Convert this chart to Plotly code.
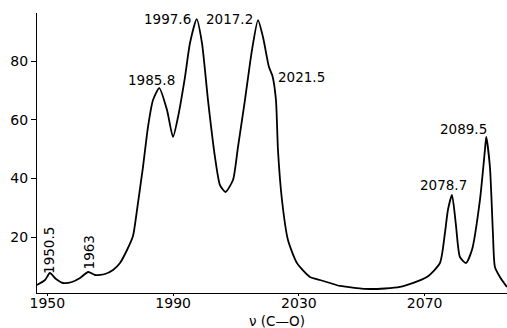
import plotly.graph_objects as go

# Wavenumber (cm^-1) and intensity values
wavenumber = [1946.7, 1949.25, 1950.8, 1952.75, 1954.97, 1957.84, 1960.38, 1963.0, 1965.15,
              1968.33, 1970.87, 1973.1, 1975.33, 1977.23, 1978.51, 1980.41, 1982.0, 1983.6,
              1985.6, 1988.05, 1989.96, 1991.55, 1993.77, 1995.36, 1997.5, 1999.18, 2001.09,
              2003.31, 2004.9, 2006.65, 2009.04, 2010.63, 2012.85, 2015.08, 2017.0, 2018.58,
              2020.49, 2021.6, 2022.71, 2023.35, 2024.62, 2026.53, 2029.39, 2033.52, 2036.7,
              2039.88, 2043.06, 2052.6, 2062.15, 2070.73, 2074.87, 2076.46, 2077.41, 2078.7,
              2079.96, 2081.23, 2083.14, 2085.04, 2087.59, 2089.18, 2089.6, 2090.77, 2091.72,
              2092.36, 2093.95, 2096.17]
intensity = [3.65, 5.35, 7.74, 5.69, 4.33, 4.67, 6.03, 8.08, 7.06,
             7.40, 8.76, 11.15, 15.58, 20.35, 29.22, 43.88, 57.52, 66.72,
             70.81, 63.31, 54.11, 60.93, 74.57, 86.16, 94.34, 86.16, 66.72,
             47.29, 37.74, 35.36, 39.45, 50.70, 66.72, 83.77, 94.0, 88.20,
             77.97, 74.91, 66.72, 49.68, 32.63, 18.99, 11.15, 6.38, 5.35,
             4.33, 3.31, 2.28, 2.97, 6.38, 11.15, 21.38, 29.22, 34.33,
             24.10, 13.19, 11.15, 15.58, 32.63, 49.68, 54.11, 43.88, 21.38,
             9.79, 6.38, 2.97]

x_ticks = [1950, 1990, 2030, 2070]
y_ticks = [20, 40, 60, 80]

peak_labels = ["1997.6", "2017.2", "1985.8", "2021.5", "2089.5", "2078.7"]
vertical_labels = ["1950.5", "1963"]

FONT = "DejaVu Sans"

fig = go.Figure()
fig.add_trace(go.Scatter(
    x=wavenumber, y=intensity, mode="lines",
    line=dict(color="black", width=1.8, shape="spline", smoothing=0.6),
    hoverinfo="skip", showlegend=False,
))

# annotation placement (layout only)
label_pos = [
    (1996.3, 94.3, "right"),
    (2016.0, 94.3, "right"),
    (1991.2, 73.5, "right"),
    (2022.7, 74.6, "left"),
    (2082.5, 56.8, "center"),
    (2076.1, 37.7, "center"),
]
annotations = []
for txt, (ax, ay, anc) in zip(peak_labels, label_pos):
    annotations.append(dict(x=ax, y=ay, xref="x", yref="y", text=txt, showarrow=False,
                            xanchor=anc, yanchor="middle",
                            font=dict(family=FONT, size=13.5, color="black")))
vert_pos = [(1950.5, 15.6), (1963.1, 14.6)]
for txt, (ax, ay) in zip(vertical_labels, vert_pos):
    annotations.append(dict(x=ax, y=ay, xref="x", yref="y", text=txt, showarrow=False,
                            textangle=-90, xanchor="center", yanchor="middle",
                            font=dict(family=FONT, size=13.5, color="black")))
annotations.append(dict(x=0.511, y=-0.1, xref="paper", yref="paper", text="ν (C—O)",
                        showarrow=False, xanchor="center", yanchor="middle",
                        font=dict(family=FONT, size=13.5, color="black")))

fig.update_layout(
    width=507, height=328,
    margin=dict(l=37, r=0, t=13, b=35),
    paper_bgcolor="white", plot_bgcolor="white",
    font=dict(family=FONT, size=14, color="black"),
    annotations=annotations,
    xaxis=dict(range=[1946.7, 2096.2], tickvals=x_ticks, ticks="outside", ticklen=2,
               tickcolor="black", showline=True, linecolor="black", linewidth=1.2,
               ticklabelstandoff=-5,
               showgrid=False, zeroline=False, tickfont=dict(family=FONT, size=14)),
    yaxis=dict(range=[0.92, 96.4], tickvals=y_ticks, ticks="outside", ticklen=5,
               tickcolor="black", showline=True, linecolor="black", linewidth=1.2,
               showgrid=False, zeroline=False, tickfont=dict(family=FONT, size=14)),
)

fig.write_html("out.html", config={"displayModeBar": False},
               post_script="document.body.style.margin='0';document.body.style.padding='0';")
